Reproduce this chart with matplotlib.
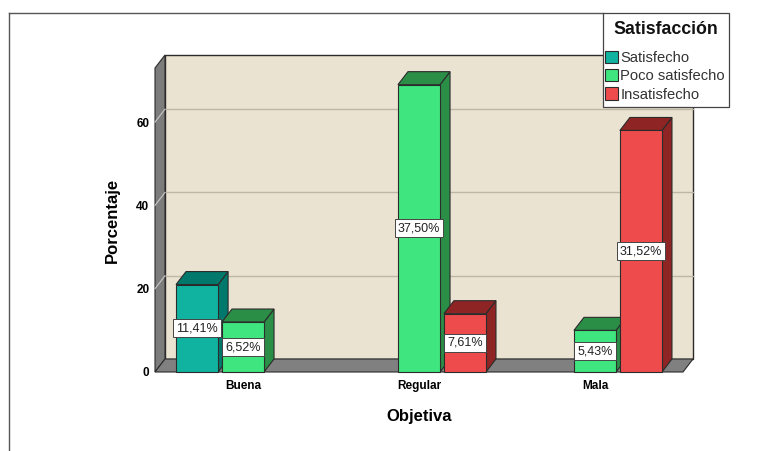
import numpy as np
import matplotlib
matplotlib.use("Agg")
import matplotlib.pyplot as plt
from matplotlib.patches import Polygon, Rectangle, Patch
from matplotlib.lines import Line2D

plt.rcParams['font.family'] = ['Liberation Sans', 'DejaVu Sans']

# data: counts per Objetiva category (N = 184), labels are % of total
categories = ['Buena', 'Regular', 'Mala']
series = ['Satisfecho', 'Poco satisfecho', 'Insatisfecho']
satisfecho = [21, 0, 0]
poco_satisfecho = [12, 69, 10]
insatisfecho = [0, 14, 58]
yticks = [0, 20, 40, 60]

front_colors = ['#10B3A0', '#3FE67F', '#EE4C4C']
dark_colors = ['#00786B', '#2A8E47', '#8E2424']

values = [satisfecho, poco_satisfecho, insatisfecho]
total = sum(sum(v) for v in values)

fig = plt.figure(figsize=(7.81, 4.51), dpi=100)
W, H = 781, 451
# front plane of the 3D box
x0p, x1p, y0p, y1p = 155, 683, 372, 68
ax = fig.add_axes([x0p / W, 1 - y0p / H, (x1p - x0p) / W, (y0p - y1p) / H])
ymax = 73
ax.set_xlim(0, 3)
ax.set_ylim(0, ymax)

# depth of the 3D effect in data units
dx = 10 / ((x1p - x0p) / 3)
dy = 13 / ((y0p - y1p) / ymax)

edge = '#2b2b2b'

# back wall
ax.add_patch(Polygon([(dx, dy), (3 + dx, dy), (3 + dx, ymax + dy), (dx, ymax + dy)],
                     facecolor='#EAE3D1', edgecolor=edge, lw=1.0, clip_on=False, zorder=1))
# gridlines on back wall
for v in yticks[1:]:
    ax.plot([dx, 3 + dx], [v + dy, v + dy], color='#BEB7A6', lw=1.0, clip_on=False, zorder=2)
# left wall
ax.add_patch(Polygon([(0, 0), (dx, dy), (dx, ymax + dy), (0, ymax)],
                     facecolor='#7C7C7C', edgecolor=edge, lw=0.8, clip_on=False, zorder=2))
for v in yticks[1:]:
    ax.plot([0, dx], [v, v + dy], color='#C8C8C8', lw=0.8, clip_on=False, zorder=3)
# floor
ax.add_patch(Polygon([(0, 0), (3, 0), (3 + dx, dy), (dx, dy)],
                     facecolor='#808080', edgecolor=edge, lw=0.8, clip_on=False, zorder=3))

slot = 0.261
width = 0.239
for i in range(len(categories)):
    for s in range(len(series)):
        h = values[s][i]
        if h <= 0:
            continue
        xc = i + 0.5 + (s - 1) * slot
        xl = xc - width / 2
        xr = xc + width / 2
        z = 4 + i * 3 + s * 0.5
        ax.add_patch(Polygon([(xr, 0), (xr + dx, dy), (xr + dx, h + dy), (xr, h)],
                             facecolor=dark_colors[s], edgecolor=edge, lw=0.8, clip_on=False, zorder=z))
        ax.add_patch(Polygon([(xl, h), (xr, h), (xr + dx, h + dy), (xl + dx, h + dy)],
                             facecolor=dark_colors[s], edgecolor=edge, lw=0.8, clip_on=False, zorder=z))
        ax.add_patch(Rectangle((xl, 0), width, h, facecolor=front_colors[s],
                               edgecolor=edge, lw=0.8, clip_on=False, zorder=z + 0.1))
        lbl = f"{100 * h / total:.2f}%".replace('.', ',')
        ax.text(xc, h / 2, lbl, ha='center', va='center', fontsize=9, color='#222222',
                zorder=20, bbox=dict(boxstyle='square,pad=0.24', facecolor='white',
                                     edgecolor='#444444', lw=0.7))

for sp in ax.spines.values():
    sp.set_visible(False)
ax.patch.set_visible(False)
ax.set_yticks(yticks)
ax.set_yticklabels([str(v) for v in yticks], fontsize=8.5, fontweight='bold')
ax.set_xticks([0.5, 1.5, 2.5])
ax.set_xticklabels(categories, fontsize=8.5, fontweight='bold')
ax.tick_params(axis='y', length=0, pad=4)
ax.tick_params(axis='x', length=0, pad=6)

ax.set_ylabel('Porcentaje', fontsize=12, fontweight='bold')
ax.yaxis.set_label_coords(-0.0814, 0.5)
ax.yaxis.label.set_va('center')
ax.set_xlabel('Objetiva', fontsize=12, fontweight='bold')
ax.xaxis.set_label_coords(0.5, -0.148)
ax.xaxis.label.set_va('center')

# outer chart frame (partly visible)
fig.add_artist(Line2D([9 / W, 603 / W], [1 - 13 / H, 1 - 13 / H], transform=fig.transFigure,
                      color='#555555', lw=1.0))
fig.add_artist(Line2D([9 / W, 9 / W], [0, 1 - 13 / H], transform=fig.transFigure,
                      color='#555555', lw=1.0))

# legend box with title
fig.add_artist(Rectangle((603 / W, 1 - 107 / H), 126 / W, 94 / H, transform=fig.transFigure,
                         facecolor='white', edgecolor='#444444', lw=0.9, zorder=5))
fig.text(666 / W, 1 - 30 / H, 'Satisfacción', ha='center', va='center',
         fontsize=12.8, fontweight='bold', color='#111111', zorder=6)
handles = [Patch(facecolor=front_colors[s], edgecolor=edge, lw=0.8) for s in range(3)]
leg = fig.legend(handles, series, loc='upper left', bbox_to_anchor=(605 / W, 1 - 51 / H),
                 frameon=False, fontsize=10.6,
                 handlelength=0.9, handleheight=0.9, handletextpad=0.15, borderpad=0,
                 labelspacing=0.27, borderaxespad=0)
leg.set_zorder(7)
for t in leg.get_texts():
    t.set_color('#333333')

fig.savefig('out.png', dpi=100)
